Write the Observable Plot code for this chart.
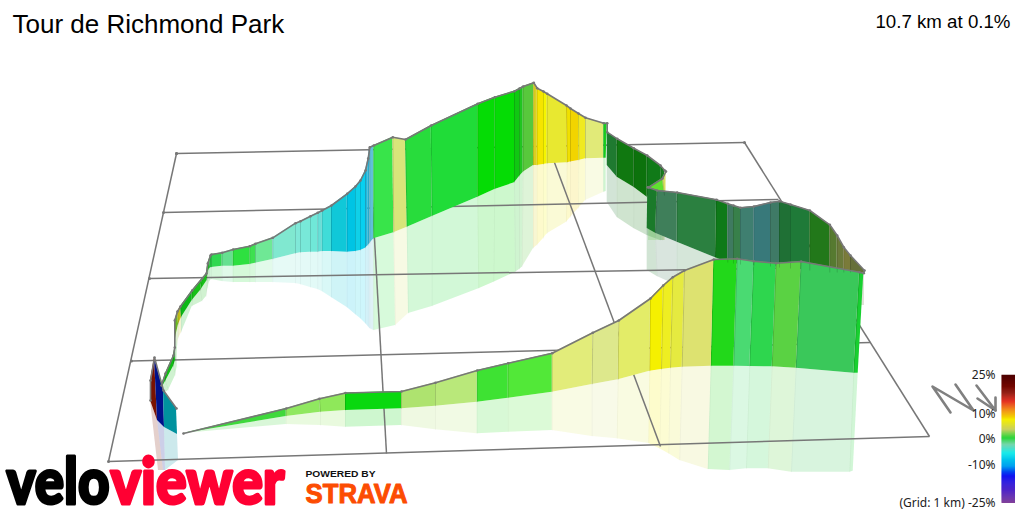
<!DOCTYPE html>
<html><head><meta charset="utf-8">
<script src="https://cdn.jsdelivr.net/npm/d3@7"></script>
<script src="https://cdn.jsdelivr.net/npm/@observablehq/plot@0.6"></script>
<style>
html,body{margin:0;padding:0;background:#fff}
svg{display:block}
</style></head><body><div id="chart"></div>
<script>
// route columns (screen units of the 3D projection)
const topX=[161,165,173,174.3,174.3,177,180,191.7,201.7,206,207.3,210,
 211,221.7,232.7,249.3,255,272.3,295,300,310,317.3,321.7,331,346.7,355,360,365,367.7,369.3,
 373.3,392.3,405,430.7,477.3,494.3,514,519,522.7,533.3,536.7,543,546.7,566,570,578,585,603.3,606.7,
 606.7,616.7,633.3,646.7,660,664.3,
 665.5,662,648,
 647.3,656.7,676.7,716,727.3,733,740,753.3,770,779,790,809.3,829.3,836.7,843.3,850,864,
 863.3,859,800.7,775.7,753.3,736.7,713.3,684,672.3,662.7,650,618.3,592.3,551.7,507.7,476.7,435,401,345,319,285.7,183];
const topY=[385,373,355,347,320,311,306,290,278,273,263,255,
 254,252.3,249,245.7,243.3,237.3,222.7,220.7,215.7,212.3,210,205,193.3,186,180,170,158,146.7,
 145,136.7,139,125,103.3,96.7,90.7,88,86,82.3,87.7,91,93.3,105,108,113,117.3,122.7,122.7,
 131.7,138.3,147.7,155,165,170,
 171,178,187,
 186.7,190,192,199.3,203.3,205,207.3,206,202,200.7,204,210,224.3,235,246.7,255,270,
 272.7,271.7,261,262.7,260.7,258.3,259,270,276.7,285,298,320,332.3,352.7,362.7,370,382.3,391,392.5,398.3,408,433];
const baseX=[161,165,173,175,175,178,181,191.7,200,206.7,207.5,209,
 211,221.7,232.7,249.3,255,272.3,295,300,310,317.3,321.7,331,346.7,355,360,365,367.7,369.3,
 373.3,393.3,406.7,431.7,477.3,494.3,514,519,522.7,533,536.7,543,546.7,566.7,570,578.3,585,603.3,605.7,
 606.7,616.7,633.3,646.7,661,664.3,
 665.5,664,650,
 646.7,655,676.7,715,727.3,733,740,753.3,770,779,790,809.3,829.3,836.7,843.3,850,864,
 857.7,853.3,795.7,771.7,749.3,733.3,710.7,681.7,670,661,649.3,617.7,591.7,551.7,507.7,476.7,435,401,345,320,285.7,183];
const baseY=[388,381,366,360,337,324,317,300,290,280,272,268,
 267,265.7,265.7,264,262.7,259,253.3,252.3,251.7,251.7,251,251,251.7,251,250,247.7,245,243,
 238.3,232.3,226.7,216,196.7,189,182.3,176,171.7,165,165,164,163.3,162.3,161.5,160,158.3,157.7,157.7,
 165,176.7,186.7,196.7,180,178,
 190,195,197,
 228,232.7,241.7,257.3,262,263,264,265,266,267,268,270,272,272,272,272,272,
 372.7,372.7,367.7,366.3,366,365.7,365.7,366.7,367.7,369,370.7,379.3,384,391.7,397.7,401.7,405.7,408.3,410,411.7,416,433];
const shadeX=[165,168,175,176.5,177,178,181,191.7,201.7,206,207.3,209,
 211,221.7,232.7,249.3,255,272.3,295,300,310,317.3,321.7,331,346.7,355,360,365,367.7,369.3,
 373.3,395,408,431.7,478.3,493.3,515,519,521.7,533,536.7,543,546.7,566,570,578,585,603.3,605.7,
 606.7,616.7,633.3,646.7,660,664.3,
 665,662,648,
 646.7,656.7,676.7,716,727.3,733,740,753.3,770,779,790,809.3,829.3,836.7,843.3,850,864,
 852.7,849.3,791,767.7,746,729.3,707.7,679.3,668.3,659.3,648.3,616.7,591.7,551.7,507.7,476.7,435,401,345,320,285.7,183];
const shadeY=[392,390,375,367,345,338,332,306,301,296,288,281,
 279,281,282,282,282,282,283,284,287,289,291,297,307,314,318,323,326,328,
 330,325,313,306,288.3,281.7,271.7,269,266.7,248,245,238,233.3,221.7,217,208,200,191.7,191,
 202,217,228,235,240,240,
 240,240,240,
 270,276,285,300,305,305,305,305,305,305,305,305,305,305,305,305,305,
 470.7,471.7,471.7,468.3,468.3,470,469,460,453.3,448.3,443,438.3,436,430,431.7,433.3,429.3,425,426.7,425,424,433];
// fill of the slice from each column to the next; null = no face
const sliceFill=["#10bc14","#10bc14","#10bc14","#14c01a","#6ab820","#c0c018","#0cb818","#18c018","#18c018","#10b010","#18c018","#20c840",
 "#30d850","#66e090","#2ee040","#3ee050","#6fe895","#80e8d0","#80e8d8","#78e8d8","#70e8d8","#68e0d8","#40dcd8","#10c8d8","#00c4e4","#10d0e8","#08d0f0","#20bce0","#30bce0","#60c0d8",
 "#38e44a","#d8e57a","#28dc3c","#20dc38","#05dc05","#05dc05","#10c812","#20c520","#58c83c","#dcd020","#f5e500","#f5f500","#e8e830","#f0e000","#f2d400","#f0ea20","#e1ea78","#18d020",null,
 "#1f7a30","#107810","#0c720c","#107a18","#187a20",null,
 "#d8e060","#60e030",null,
 "#1a7a2a","#3f7f5a","#2b8040","#0e7a18","#3f7a60","#38804a","#3f7f70","#38797a","#3f7a66","#1f7035","#1f7a38","#22781a","#567a30","#6a7a3a","#7a7b3a","#66703a",null,
 "#18d030","#3ac85a","#5ad243","#2ed64e","#4ada72","#22d81a","#dde270","#e5ea40","#eeee22","#f5f000","#e3ec68","#dde88c","#e2ec7a","#52e838","#3ee233","#b9e87a","#aee36f","#09d80f","#8fe85a","#90e860","#3fd83c"];
// the steep spike at the start of the route
const spikeFill=["#7a1200","#00108a","#00929e"];
const spikeTopX=[150,154,163,176], spikeTopY=[380,357,390,408];
const spikeBaseX=[150,157,164,177], spikeBaseY=[400,420,427,434];
const spikeShadeX=[158,163,165,178], spikeShadeY=[470,470,470,460];
const spikeEdgeX=[150,150,154,163,176], spikeEdgeY=[400,380,357,390,408];
// 1 km grid
const gridX1=[176,163,149,131,108,176,369,548,744];
const gridY1=[153,212,278,360.5,461,153,149,146,142];
const gridX2=[744,778,822,870,929,108,386,660,929];
const gridY2=[142,199,267,342,436,461,453,446,436];
// compass
const northX=[950,932,973,955], northY=[412,386,410,384];
const arrowX=[976,995,995], arrowY=[385,410,397];
const arrowHeadX=[977,995], arrowHeadY=[398,410];
// gradient key
const gradePct=[25,17.8,14.6,11.3,7.4,3.5,0.25,-2.3,-5.6,-10.8,-14.7,-19.9,-25];
const gradeColor=["#4a0000","#8a0a00","#e01000","#f08000","#f5ee00","#c8d060","#10d020","#60d0a0","#00e8e8","#00a0f0","#0000f0","#3000c0","#80409a"];
const keyLabels=["25%","10%","0%","-10%"], keyValues=[25,10,0,-10];
const keyY=p=>439-2.56*p;

const idxOf=a=>d3.range(a.length);
const idx=idxOf(topX);
const rows=[]; sliceFill.forEach((f,i)=>{ if(f){ for(const j of [i,i+1]) rows.push({s:i,f,j}); }});
const spikeRows=[]; spikeFill.forEach((f,i)=>{ for(const j of [i,i+1]) spikeRows.push({s:i,f,j}); });
const faces=idx.filter(i=>sliceFill[i]&&sliceFill[i-1]);
const ramp=d3.scaleLinear().domain(gradePct).range(gradeColor);
const keySteps=d3.range(-25,25,0.4);
const sans="Liberation Sans", key="Noto Sans", heavy="Lato";
const lbl=(t,x,y,o)=>Plot.text([t],{x:()=>x,y:()=>y,text:d=>d,...o});
const gridStyle={stroke:"#777",strokeWidth:1.5};

const chart=Plot.plot({
 width:1024,height:512,margin:0,
 x:{domain:[0,1024],range:[0,1024],axis:null},
 y:{domain:[0,512],range:[0,512],axis:null},
 color:{type:"identity"},
 style:{background:"#fff"},
 marks:[
  // shadows under the wall
  Plot.area(rows,{x1:d=>baseX[d.j],y1:d=>baseY[d.j],x2:d=>shadeX[d.j],y2:d=>shadeY[d.j],z:"s",fill:"f",fillOpacity:.2}),
  Plot.area(spikeRows,{x1:d=>spikeBaseX[d.j],y1:d=>spikeBaseY[d.j],x2:d=>spikeShadeX[d.j],y2:d=>spikeShadeY[d.j],z:"s",fill:"f",fillOpacity:.2}),
  Plot.link(faces,{x1:i=>baseX[i],y1:i=>baseY[i],x2:i=>shadeX[i],y2:i=>shadeY[i],stroke:"#000",strokeOpacity:.03}),
  // grid
  Plot.link(idxOf(gridX1),{x1:i=>gridX1[i],y1:i=>gridY1[i],x2:i=>gridX2[i],y2:i=>gridY2[i],...gridStyle}),
  Plot.dot(idxOf(gridX1),{x:i=>gridX1[i],y:i=>gridY1[i],r:1.5,fill:"#777"}),
  // wall
  Plot.area(rows,{x1:d=>topX[d.j],y1:d=>topY[d.j],x2:d=>baseX[d.j],y2:d=>baseY[d.j],z:"s",fill:"f"}),
  Plot.link(faces,{x1:i=>topX[i],y1:i=>topY[i],x2:i=>baseX[i],y2:i=>baseY[i],stroke:"#000",strokeOpacity:.14,strokeWidth:1}),
  Plot.area(spikeRows,{x1:d=>spikeTopX[d.j],y1:d=>spikeTopY[d.j],x2:d=>spikeBaseX[d.j],y2:d=>spikeBaseY[d.j],z:"s",fill:"f"}),
  // outline along the top of the wall
  Plot.line(idx,{x:i=>topX[i],y:i=>topY[i],stroke:"#777",strokeWidth:1.6}),
  Plot.dot(idx,{x:i=>topX[i],y:i=>topY[i],r:1.3,fill:"#777"}),
  Plot.line(idxOf(spikeEdgeX),{x:i=>spikeEdgeX[i],y:i=>spikeEdgeY[i],stroke:"#777",strokeWidth:1.6}),
  Plot.dot(idxOf(spikeEdgeX),{x:i=>spikeEdgeX[i],y:i=>spikeEdgeY[i],r:1.3,fill:"#777"}),
  // north arrow
  Plot.line(idxOf(northX),{x:i=>northX[i],y:i=>northY[i],stroke:"#808080",strokeWidth:2.6}),
  Plot.line(idxOf(arrowX),{x:i=>arrowX[i],y:i=>arrowY[i],stroke:"#808080",strokeWidth:2.6}),
  Plot.line(idxOf(arrowHeadX),{x:i=>arrowHeadX[i],y:i=>arrowHeadY[i],stroke:"#808080",strokeWidth:2.6}),
  // gradient key
  Plot.rect(keySteps,{x1:()=>1001.5,x2:()=>1015,y1:p=>keyY(p+0.5),y2:p=>keyY(p),fill:p=>ramp(p)}),
  Plot.text(keyValues,{x:()=>995,y:p=>keyY(p),text:(p,i)=>keyLabels[i],fontFamily:key,fontSize:12,textAnchor:"end",fill:"#222"}),
  lbl("(Grid: 1 km) -25%",995,503,{fontFamily:key,fontSize:12,textAnchor:"end",fill:"#222"}),
  // titles
  lbl("Tour de Richmond Park",12,24,{fontFamily:sans,fontSize:26,textAnchor:"start",fill:"#000"}),
  lbl("10.7 km at 0.1%",1010,22,{fontFamily:sans,fontSize:18.7,textAnchor:"end",fill:"#000"}),
  // logos
  lbl("velo",6,483,{fontFamily:heavy,fontWeight:900,fontSize:64,textAnchor:"start",fill:"#000",stroke:"#000",strokeWidth:3}),
  lbl("viewer",110,483,{fontFamily:heavy,fontWeight:900,fontSize:64,textAnchor:"start",fill:"#ff0033",stroke:"#ff0033",strokeWidth:3}),
  lbl("POWERED BY",305,473,{fontFamily:sans,fontWeight:700,fontSize:9.5,textAnchor:"start",fill:"#111"}),
  lbl("STRAVA",305,494,{fontFamily:sans,fontWeight:700,fontSize:27,textAnchor:"start",fill:"#fc4c02",stroke:"#fc4c02",strokeWidth:1})
 ]
});
// fit the logo words to the widths seen in the reference
const fit={"velo":103,"viewer":174,"POWERED BY":70,"STRAVA":102};
d3.select(chart).selectAll("text").filter(function(){return this.textContent in fit;})
  .each(function(){this.setAttribute("textLength",fit[this.textContent]);this.setAttribute("lengthAdjust","spacingAndGlyphs");});
document.getElementById("chart").append(chart);
</script></body></html>
